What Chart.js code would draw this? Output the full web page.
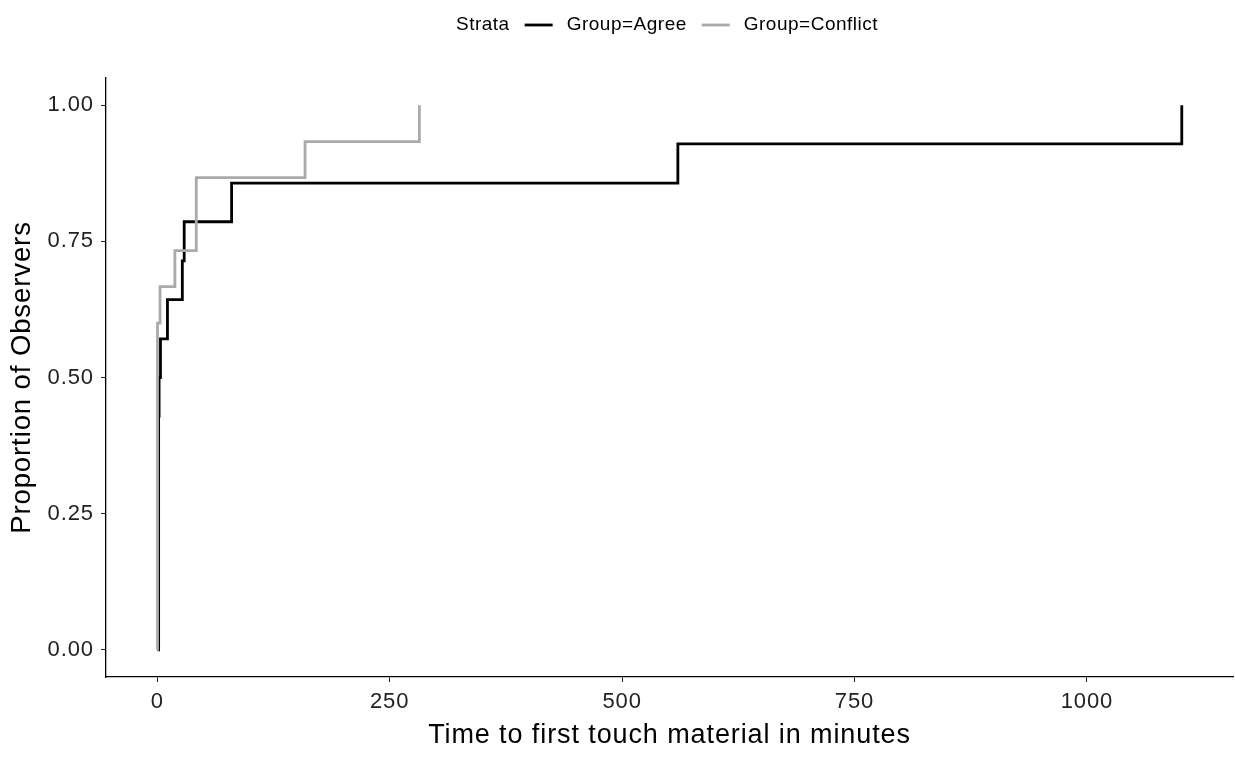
<!DOCTYPE html>
<html>
<head>
<meta charset="utf-8">
<script src="https://cdn.jsdelivr.net/npm/chart.js@4.4.1/dist/chart.umd.min.js"></script>
<style>
  html, body { margin: 0; padding: 0; background: #ffffff; }
  #wrap { width: 1235px; height: 761px; }
</style>
</head>
<body>
<div id="wrap"><canvas id="km" width="1235" height="761"></canvas></div>
<script>
// Cumulative proportion of observers who have touched the material (Kaplan-Meier, event scale)
const agreeTimes   = [0, 1.5, 2, 3.5, 11, 27, 29, 80, 560, 1102];
const agreeProp    = [0, 0.429, 0.5, 0.571, 0.643, 0.714, 0.786, 0.857, 0.929, 1.0];

const conflictTimes = [0, 0.3, 3, 19, 42, 159, 282];
const conflictProp  = [0, 0.6, 0.667, 0.733, 0.867, 0.933, 1.0];

const xTickValues = [0, 250, 500, 750, 1000];
const yTickValues = [0, 0.25, 0.5, 0.75, 1.0];

const legendTitle = 'Strata';
const seriesNames = ['Group=Agree', 'Group=Conflict'];
const seriesColors = ['#000000', '#aaaaaa'];

const FONT = '"Liberation Sans", Arial, sans-serif';

function toPoints(xs, ys) {
  return xs.map((x, i) => ({ x: x, y: ys[i] }));
}

// Slightly wider text tracking for axis labels and titles
const textTracking = {
  id: 'textTracking',
  beforeDraw(chart) {
    if ('letterSpacing' in chart.ctx) chart.ctx.letterSpacing = '0.9px';
  }
};

// Legend drawn in one row above the panel: title, then key line + label per series
const strataLegend = {
  id: 'strataLegend',
  afterDraw(chart) {
    const ctx = chart.ctx;
    ctx.save();
    if ('letterSpacing' in ctx) ctx.letterSpacing = '0.5px';
    ctx.font = '19px ' + FONT;
    ctx.textBaseline = 'middle';
    ctx.fillStyle = '#000000';
    const keyLen = 28, gapAfterTitle = 15, gapKeyText = 14, gapBetween = 15;
    let total = ctx.measureText(legendTitle).width + gapAfterTitle;
    seriesNames.forEach((n, i) => {
      total += keyLen + gapKeyText + ctx.measureText(n).width;
      if (i < seriesNames.length - 1) total += gapBetween;
    });
    const cx = 667, cy = 25;
    let x = cx - total / 2;
    ctx.textAlign = 'left';
    ctx.fillText(legendTitle, x, cy);
    x += ctx.measureText(legendTitle).width + gapAfterTitle;
    seriesNames.forEach((n, i) => {
      ctx.beginPath();
      ctx.strokeStyle = seriesColors[i];
      ctx.lineWidth = 2.8;
      ctx.moveTo(x, cy);
      ctx.lineTo(x + keyLen, cy);
      ctx.stroke();
      x += keyLen + gapKeyText;
      ctx.fillStyle = '#000000';
      ctx.fillText(n, x, cy);
      x += ctx.measureText(n).width + gapBetween;
    });
    ctx.restore();
  }
};

new Chart(document.getElementById('km'), {
  type: 'line',
  data: {
    datasets: [
      {
        label: seriesNames[0],
        data: toPoints(agreeTimes, agreeProp),
        borderColor: seriesColors[0],
        borderWidth: 2.8,
        stepped: 'before',
        pointRadius: 0,
        fill: false,
        order: 1,
        borderCapStyle: 'butt',
        borderJoinStyle: 'miter'
      },
      {
        label: seriesNames[1],
        data: toPoints(conflictTimes, conflictProp),
        borderColor: seriesColors[1],
        borderWidth: 2.8,
        stepped: 'before',
        pointRadius: 0,
        fill: false,
        order: 0,
        borderCapStyle: 'butt',
        borderJoinStyle: 'miter'
      }
    ]
  },
  options: {
    responsive: false,
    animation: false,
    devicePixelRatio: 1,
    layout: { padding: { left: 0, right: 2, top: 78, bottom: 0 } },
    plugins: {
      legend: { display: false },
      tooltip: { enabled: false }
    },
    scales: {
      x: {
        type: 'linear',
        min: -55.1,
        max: 1157.1,
        afterBuildTicks: (s) => { s.ticks = xTickValues.map(v => ({ value: v })); },
        afterFit: (s) => { s.height = 84; },
        grid: {
          drawOnChartArea: false,
          drawTicks: true,
          tickLength: 5,
          color: '#222222',
          tickWidth: 1
        },
        border: { display: true, color: '#000000', width: 1.3 },
        ticks: {
          color: '#222222',
          font: { family: FONT, size: 22 },
          padding: 7,
          maxRotation: 0,
          callback: (v) => String(v)
        },
        title: {
          display: true,
          text: 'Time to first touch material in minutes',
          color: '#000000',
          font: { family: FONT, size: 27 },
          padding: { top: 0, bottom: 9 }
        }
      },
      y: {
        type: 'linear',
        min: -0.05,
        max: 1.05,
        afterBuildTicks: (s) => { s.ticks = yTickValues.map(v => ({ value: v })); },
        afterFit: (s) => { s.width = 106; },
        grid: {
          drawOnChartArea: false,
          drawTicks: true,
          tickLength: 5,
          color: '#222222',
          tickWidth: 1
        },
        border: { display: true, color: '#000000', width: 1.3 },
        ticks: {
          color: '#222222',
          font: { family: FONT, size: 22 },
          padding: 7,
          callback: (v) => Number(v).toFixed(2)
        },
        title: {
          display: true,
          text: 'Proportion of Observers',
          color: '#000000',
          font: { family: FONT, size: 27.5 },
          padding: { top: 6, bottom: 0 }
        }
      }
    }
  },
  plugins: [textTracking, strataLegend]
});
</script>
</body>
</html>
